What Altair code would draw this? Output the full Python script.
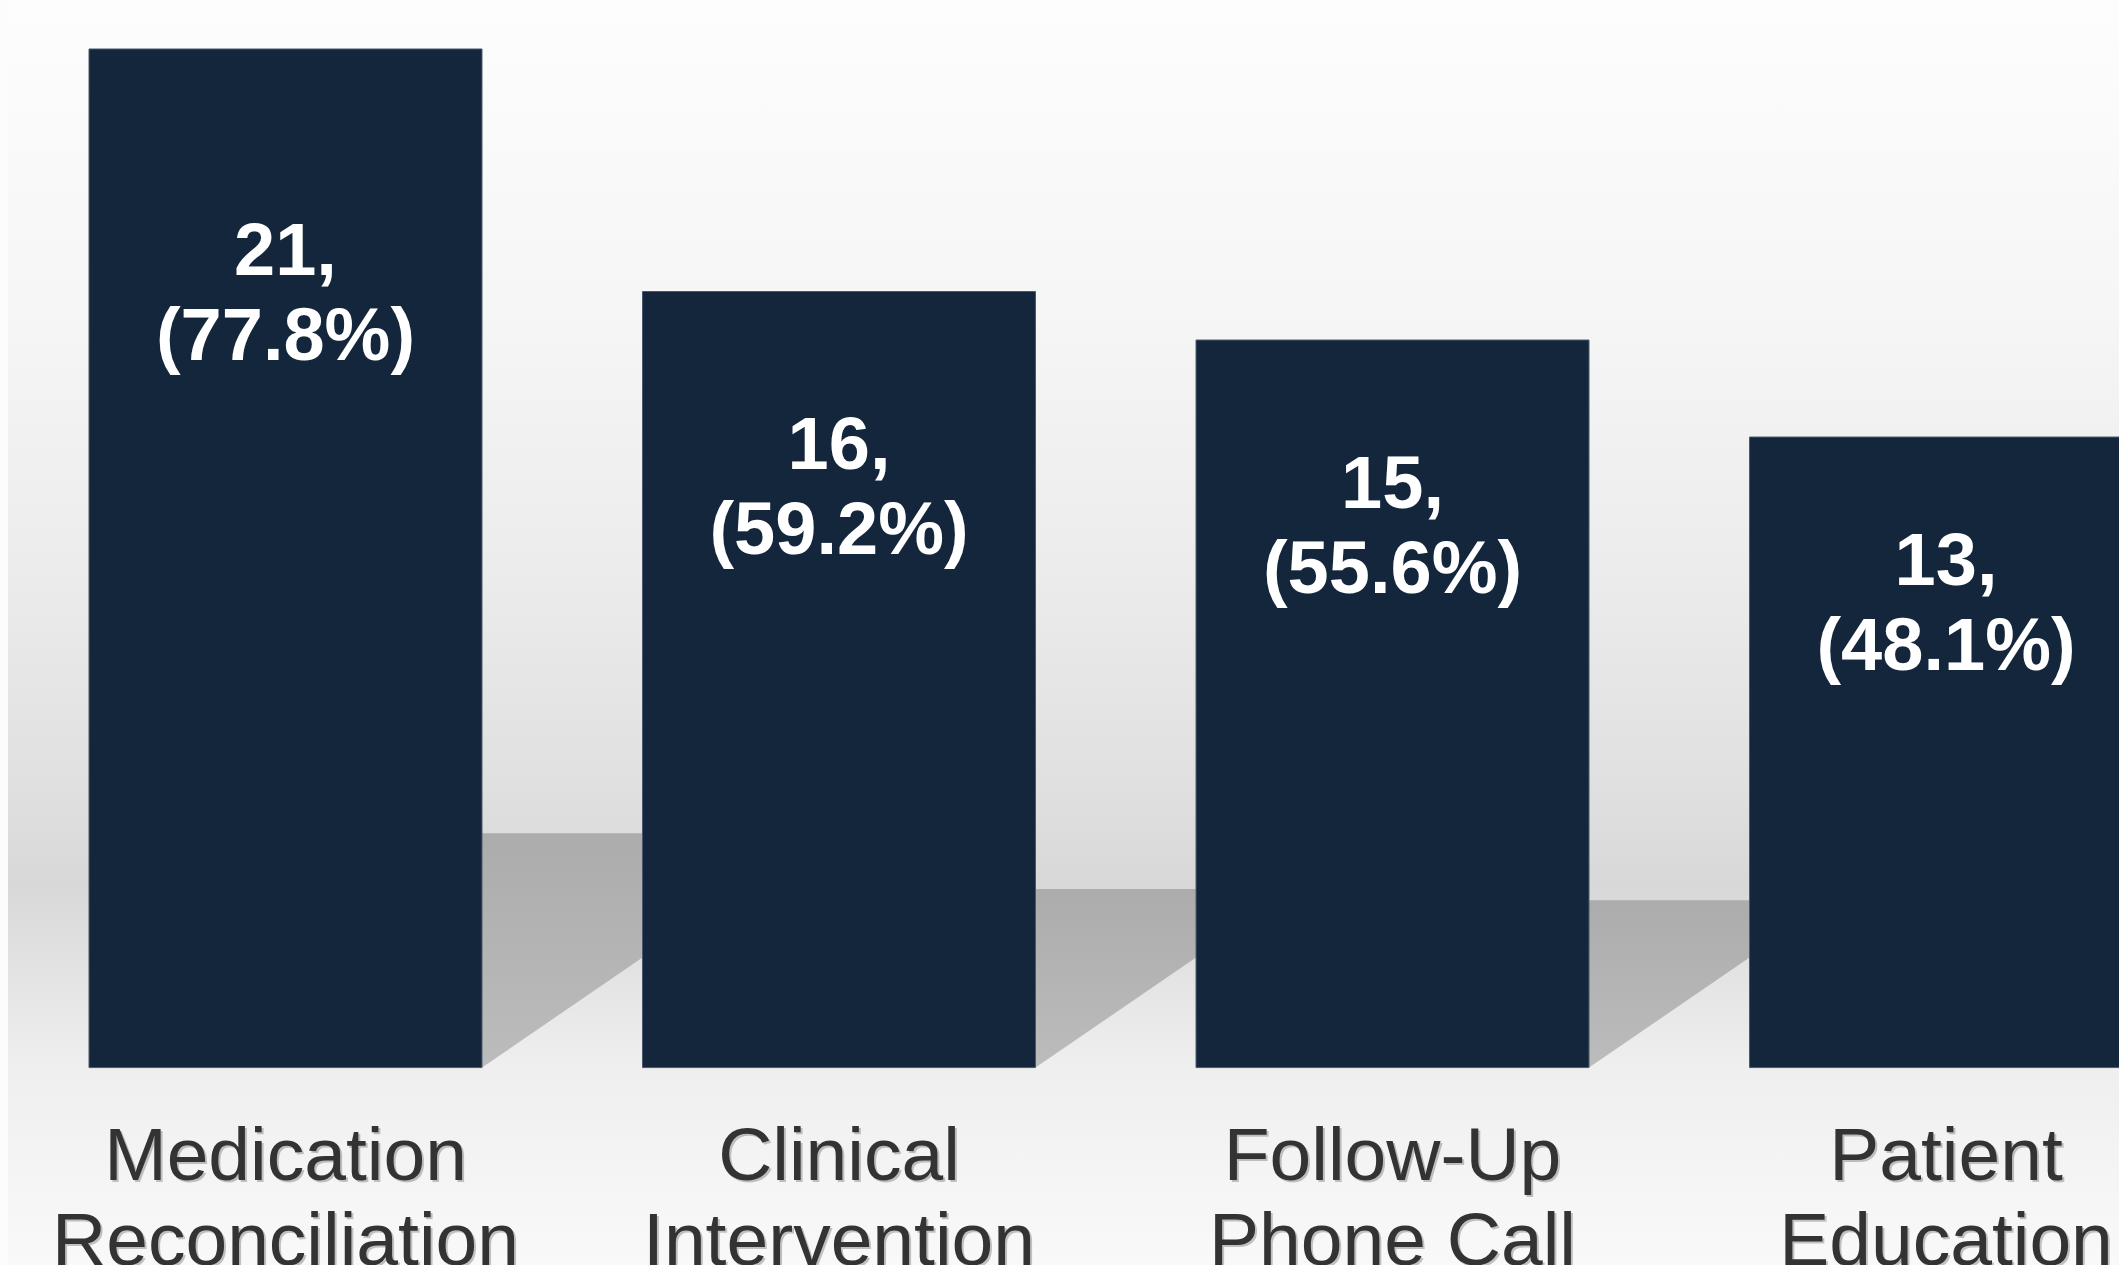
import altair as alt
import pandas as pd

# ---- data ----
categories = ["Medication\nReconciliation", "Clinical\nIntervention", "Follow-Up\nPhone Call", "Patient\nEducation"]
counts = [21, 16, 15, 13]
percents = [77.8, 59.2, 55.6, 48.1]

W, H = 2119, 1265
HALF = 0.355          # half bar width in category-index units
GAP = 1 - 2 * HALF    # space between bars
SHADOW_RATIO = 0.23   # shadow height relative to bar height
SHADOW_FOOT = 2.27    # rise of the shadow's lower diagonal across the gap

df = pd.DataFrame({
    "idx": list(range(len(categories))),
    "category": categories,
    "count": counts,
    "pct": percents,
})

xs = alt.Scale(domain=[-0.5158, 3.3125], nice=False, zero=False)
ys = alt.Scale(domain=[-4.07, 22.01], nice=False, zero=False)

base = alt.Chart(df)

bg = base.mark_rect(
    color=alt.Gradient(
        gradient="linear", x1=0, x2=0, y1=0, y2=1,
        stops=[
            alt.GradientStop(offset=0.0, color="#fdfdfd"),
            alt.GradientStop(offset=0.24, color="#f6f6f6"),
            alt.GradientStop(offset=0.45, color="#ececec"),
            alt.GradientStop(offset=0.62, color="#e0e0e0"),
            alt.GradientStop(offset=0.70, color="#d8d8d8"),
            alt.GradientStop(offset=0.80, color="#e8e8e8"),
            alt.GradientStop(offset=0.845, color="#efefef"),
            alt.GradientStop(offset=1.0, color="#f9f9f9"),
        ],
    )
).encode(
    x=alt.value(8), x2=alt.value(W), y=alt.value(0), y2=alt.value(H)
).transform_filter("datum.idx == 0")

shadow = base.transform_calculate(
    sx0=f"datum.idx + {HALF}",
    sx1=f"datum.idx + {HALF + GAP}",
).transform_fold(
    ["sx0", "sx1"], as_=["pt", "sx"]
).transform_calculate(
    lo=f"datum.pt == 'sx0' ? 0 : {SHADOW_FOOT}",
    hi=f"datum.count * {SHADOW_RATIO}",
).mark_area(
    clip=True, orient="vertical",
    color=alt.Gradient(
        gradient="linear", x1=0, x2=0, y1=0, y2=1,
        stops=[
            alt.GradientStop(offset=0.0, color="#acacac"),
            alt.GradientStop(offset=1.0, color="#bcbcbc"),
        ],
    ),
).encode(
    x=alt.X("sx:Q", scale=xs, axis=None),
    y=alt.Y("lo:Q", scale=ys, axis=None, stack=None),
    y2="hi:Q",
    detail="idx:N",
)

bars = base.transform_calculate(
    x0=f"datum.idx - {HALF}",
    x1=f"datum.idx + {HALF}",
).mark_rect(clip=True, color="#13263b", stroke="#4a5a6c", strokeWidth=1).encode(
    x=alt.X("x0:Q", scale=xs, axis=None),
    x2="x1:Q",
    y=alt.Y("count:Q", scale=ys, axis=None),
    y2=alt.datum(0),
)

bar_labels = base.transform_calculate(
    lab="datum.count + ',\\n(' + format(datum.pct, '.1f') + '%)'",
    ly="datum.count * 0.8",
).mark_text(
    clip=True, font="Liberation Sans", fontWeight="bold", fontSize=74,
    color="white", align="center", baseline="middle", lineBreak="\n", lineHeight=85,
).encode(
    x=alt.X("idx:Q", scale=xs, axis=None),
    y=alt.Y("ly:Q", scale=ys, axis=None),
    text="lab:N",
)

cat_shadow = base.mark_text(
    clip=True, font="Liberation Sans", fontSize=75, color="#000000", opacity=0.22,
    align="center", baseline="alphabetic", lineBreak="\n", lineHeight=85, dx=2, dy=2,
).encode(
    x=alt.X("idx:Q", scale=xs, axis=None),
    y=alt.value(1180),
    text="category:N",
)

cat_labels = base.mark_text(
    clip=True, font="Liberation Sans", fontSize=75, color="#333333",
    align="center", baseline="alphabetic", lineBreak="\n", lineHeight=85,
).encode(
    x=alt.X("idx:Q", scale=xs, axis=None),
    y=alt.value(1180),
    text="category:N",
)

chart = alt.layer(bg, shadow, bars, bar_labels, cat_shadow, cat_labels).properties(
    width=W, height=H, padding=0, background="#fcfcfc",
    autosize=alt.AutoSizeParams(type="none"),
).configure_view(stroke=None)

chart.save("out.html", embed_options={"renderer": "svg", "actions": False})
